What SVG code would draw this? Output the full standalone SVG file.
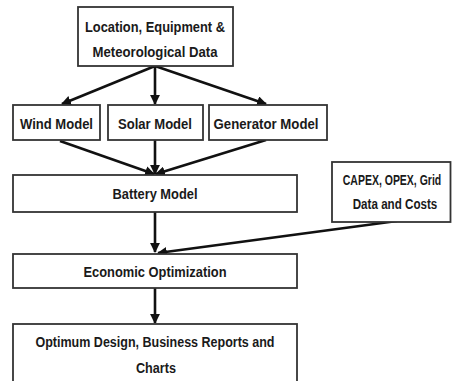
<svg xmlns="http://www.w3.org/2000/svg" width="452" height="381" viewBox="0 0 452 381">
<defs>
<style>
.box{fill:#fff;stroke:#333;stroke-width:1.8}
.t{font-family:"Liberation Sans",Arial,sans-serif;font-weight:bold;font-size:14px;fill:#1a1a1a;text-anchor:middle}
.c{stroke:#111;stroke-width:2.6;fill:none;marker-end:url(#ah)}
</style>
<marker id="ah" viewBox="0 0 10 10" refX="9" refY="5" markerWidth="3.8" markerHeight="3.8" orient="auto" markerUnits="strokeWidth">
<path d="M0,0 L10,5 L0,10 Z" fill="#111"/>
</marker>
</defs>
<rect width="452" height="381" fill="#fff"/>
<g id="connectors">
<line class="c" x1="155" y1="66" x2="62" y2="104"/>
<line class="c" x1="155" y1="66" x2="155" y2="104"/>
<line class="c" x1="155" y1="66" x2="266" y2="104"/>
<line class="c" x1="60" y1="141" x2="154" y2="174"/>
<line class="c" x1="155" y1="140" x2="155" y2="174"/>
<line class="c" x1="266" y1="140" x2="156" y2="174"/>
<line class="c" x1="155" y1="212" x2="155" y2="252"/>
<line class="c" x1="397" y1="221" x2="158" y2="253"/>
<line class="c" x1="155" y1="288" x2="155" y2="323"/>
</g>
<g id="location">
<rect class="box" x="78" y="7" width="155" height="59"/>
<text class="t" x="155" y="32" textLength="140" lengthAdjust="spacingAndGlyphs">Location, Equipment &amp;</text>
<text class="t" x="155" y="57" textLength="125" lengthAdjust="spacingAndGlyphs">Meteorological Data</text>
</g>
<g id="wind">
<rect class="box" x="13" y="105" width="87" height="35"/>
<text class="t" x="56.5" y="129" textLength="73" lengthAdjust="spacingAndGlyphs">Wind Model</text>
</g>
<g id="solar">
<rect class="box" x="108" y="105" width="95" height="35"/>
<text class="t" x="155" y="129" textLength="74" lengthAdjust="spacingAndGlyphs">Solar Model</text>
</g>
<g id="generator">
<rect class="box" x="209" y="105" width="118" height="35"/>
<text class="t" x="266" y="129" textLength="105" lengthAdjust="spacingAndGlyphs">Generator Model</text>
</g>
<g id="battery">
<rect class="box" x="13" y="175" width="284" height="37"/>
<text class="t" x="155" y="199" textLength="85" lengthAdjust="spacingAndGlyphs">Battery Model</text>
</g>
<g id="capex">
<rect class="box" x="332" y="162" width="118.5" height="60"/>
<text class="t" transform="translate(392,185) scale(0.75,1)" x="0" y="0">CAPEX, OPEX, Grid</text>
<text class="t" transform="translate(395,209) scale(0.83,1)" x="0" y="0">Data and Costs</text>
</g>
<g id="economic">
<rect class="box" x="13" y="254" width="284" height="34"/>
<text class="t" x="155" y="277" textLength="143" lengthAdjust="spacingAndGlyphs">Economic Optimization</text>
</g>
<g id="optimum">
<rect class="box" x="13" y="324" width="284" height="70"/>
<text class="t" x="155" y="347" textLength="239" lengthAdjust="spacingAndGlyphs">Optimum Design, Business Reports and</text>
<text class="t" x="156" y="373" textLength="40" lengthAdjust="spacingAndGlyphs">Charts</text>
</g>
</svg>
